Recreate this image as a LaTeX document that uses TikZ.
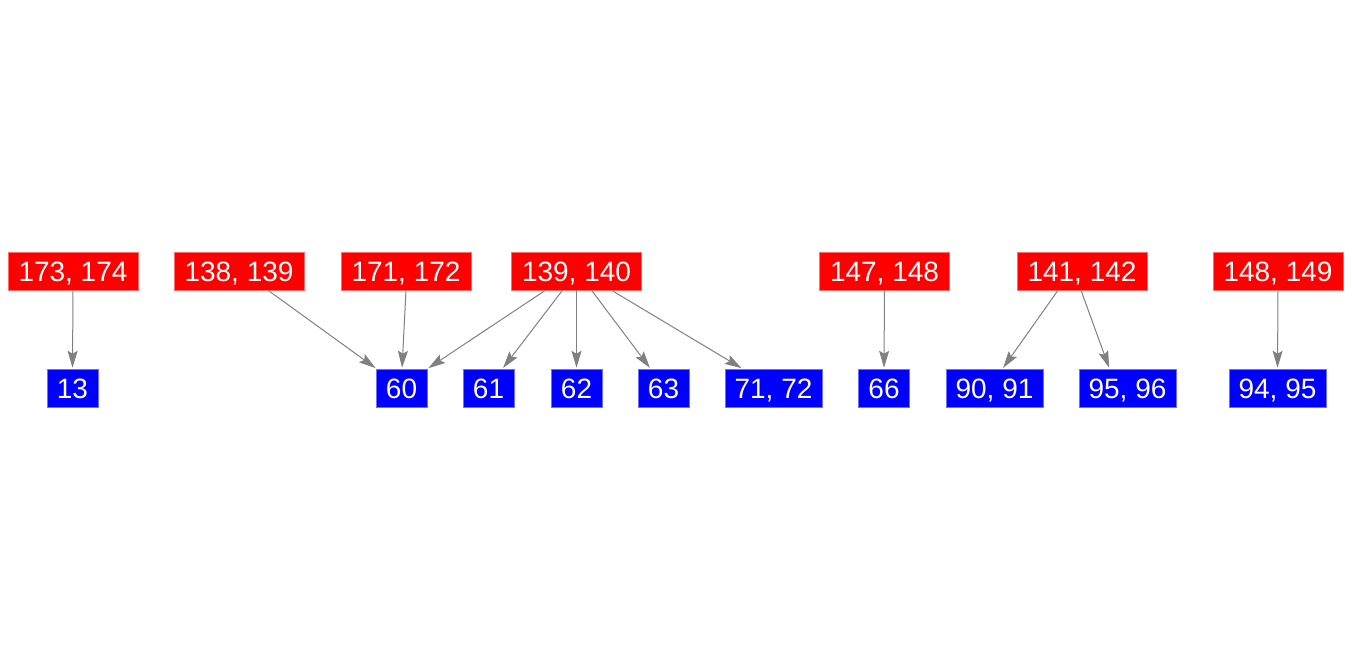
\documentclass[tikz,border=0pt]{standalone}
\usepackage{fontspec}
\setmainfont{Liberation Sans}
\usetikzlibrary{arrows.meta}
\tikzset{
  src/.style={fill={rgb,255:red,255;green,0;blue,0}, draw={rgb,255:red,255;green,110;blue,110}, line width=0.5pt, text=white, minimum width=130pt, minimum height=38pt, inner sep=0pt, text height=20pt, text depth=-1pt, font=\fontsize{28}{32}\selectfont},
  dstS/.style={fill={rgb,255:red,0;green,0;blue,255}, draw={rgb,255:red,110;green,110;blue,255}, line width=0.5pt, text=white, minimum width=51pt, minimum height=38pt, inner sep=0pt, text height=20pt, text depth=-1pt, font=\fontsize{28}{32}\selectfont},
  dstW/.style={dstS, minimum width=97pt},
  edge/.style={draw={rgb,255:red,128;green,128;blue,128}, line width=1pt, -{Stealth[length=17pt,width=10pt,inset=3pt]}, shorten >=1pt}
}
\begin{document}
\begin{tikzpicture}[x=1pt,y=-1pt]
\useasboundingbox (0,0) rectangle (1352,656);
% sources
\node[src] (a) at (73,271) {173, 174};
\node[src] (b) at (239,271) {138, 139};
\node[src] (c) at (406,271) {171, 172};
\node[src] (d) at (576.5,271) {139, 140};
\node[src] (e) at (884.5,271) {147, 148};
\node[src] (f) at (1082,271) {141, 142};
\node[src] (g) at (1278,271) {148, 149};
% targets
\node[dstS] (n13) at (72.5,388) {13};
\node[dstS] (n60) at (401.5,388) {60};
\node[dstS] (n61) at (488.5,388) {61};
\node[dstS] (n62) at (576.5,388) {62};
\node[dstS] (n63) at (663.5,388) {63};
\node[dstW] (n71) at (773.5,388) {71, 72};
\node[dstS] (n66) at (884,388) {66};
\node[dstW] (n90) at (994.5,388) {90, 91};
\node[dstW] (n95) at (1127.5,388) {95, 96};
\node[dstW] (n94) at (1277.5,388) {94, 95};
% edges
\draw[edge] (a.south) -- (n13.north);
\draw[edge] ([xshift=29pt]b.south) -- ([xshift=-25pt]n60.north);
\draw[edge] (c.south) -- ([xshift=0.5pt]n60.north);
\draw[edge] ([xshift=-31pt]d.south) -- ([xshift=26pt]n60.north);
\draw[edge] ([xshift=-14pt]d.south) -- ([xshift=14pt]n61.north);
\draw[edge] (d.south) -- (n62.north);
\draw[edge] ([xshift=15pt]d.south) -- ([xshift=-13pt]n63.north);
\draw[edge] ([xshift=35pt]d.south) -- ([xshift=-31pt]n71.north);
\draw[edge] (e.south) -- (n66.north);
\draw[edge] ([xshift=-24pt]f.south) -- ([xshift=8pt]n90.north);
\draw[edge] ([xshift=-1pt]f.south) -- ([xshift=-18pt]n95.north);
\draw[edge] (g.south) -- (n94.north);
\end{tikzpicture}
\end{document}
